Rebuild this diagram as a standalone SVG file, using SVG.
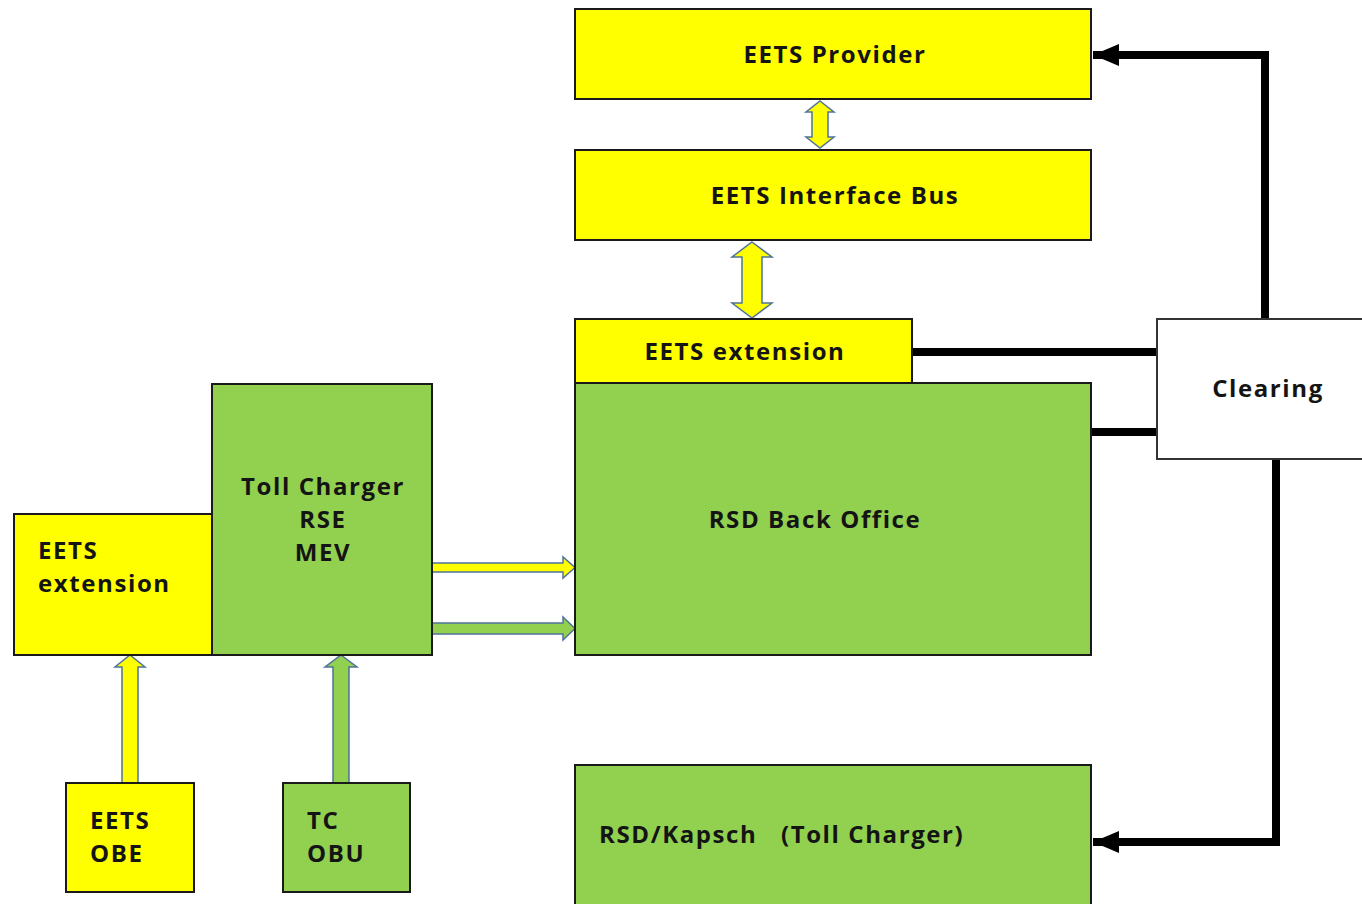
<svg xmlns="http://www.w3.org/2000/svg" width="1362" height="904" viewBox="0 0 1362 904">
<defs>
<style>
.y{fill:#FFFF00;stroke:#1a1a1a;stroke-width:2}
.g{fill:#92D050;stroke:#1a1a1a;stroke-width:2}
.w{fill:#FFFFFF;stroke:#333;stroke-width:2}
.t{font-family:"Open Sans","Liberation Sans",sans-serif;font-weight:bold;font-size:24px;letter-spacing:1.6px;fill:#141414}
.c{text-anchor:middle}
.ln{fill:none;stroke:#000;stroke-width:8}
.ay{fill:#FFFF00;stroke:#4F739A;stroke-width:1.5;stroke-linejoin:miter}
.ag{fill:#92D050;stroke:#4F739A;stroke-width:1.5;stroke-linejoin:miter}
</style>
<marker id="ah" markerUnits="userSpaceOnUse" markerWidth="28" markerHeight="24" refX="26" refY="11" orient="auto">
<path d="M0,0 L26,11 L0,22 Z" fill="#000"/>
</marker>
</defs>
<rect width="1362" height="904" fill="#fff"/>

<g id="connectors">
<path class="ln" d="M1265,319 V55 H1093" marker-end="url(#ah)"/>
<path class="ln" d="M1276,459 V842 H1093" marker-end="url(#ah)"/>
<path class="ln" d="M912,352 H1157"/>
<path class="ln" d="M1092,432 H1157"/>
<path class="ay" d="M820,101 L834,112 L828,112 L828,137 L834,137 L820,148 L806,137 L812,137 L812,112 L806,112 Z"/>
<path class="ay" d="M752,242 L772,257 L762,257 L762,303 L772,303 L752,318 L732,303 L742,303 L742,257 L732,257 Z"/>
<path class="ay" d="M432,563 L563,563 L563,557 L575,567.5 L563,578 L563,572 L432,572 Z"/>
<path class="ag" d="M432,623 L563,623 L563,617 L575,628.5 L563,640 L563,634 L432,634 Z"/>
<path class="ay" d="M130,655 L145,667 L138,667 L138,783 L122,783 L122,667 L115,667 Z"/>
<path class="ag" d="M341,655 L357,667 L349,667 L349,783 L333,783 L333,667 L325,667 Z"/>
</g>

<g id="eets-provider">
<rect class="y" x="575" y="9" width="516" height="90"/>
<text class="t c" x="835" y="63">EETS Provider</text>
</g>
<g id="eets-interface-bus">
<rect class="y" x="575" y="150" width="516" height="90"/>
<text class="t c" x="835" y="204">EETS Interface Bus</text>
</g>
<g id="rsd-back-office">
<rect class="g" x="575" y="383" width="516" height="272"/>
<text class="t c" x="815" y="528">RSD Back Office</text>
</g>
<g id="eets-extension-top">
<rect class="y" x="575" y="319" width="337" height="64"/>
<text class="t c" x="745" y="360">EETS extension</text>
</g>
<g id="clearing">
<rect class="w" x="1157" y="319" width="215" height="140"/>
<text class="t c" x="1268" y="397">Clearing</text>
</g>
<g id="rsd-kapsch">
<rect class="g" x="575" y="765" width="516" height="150"/>
<text class="t" x="599" y="843" xml:space="preserve">RSD/Kapsch   (Toll Charger)</text>
</g>
<g id="toll-charger">
<rect class="g" x="212" y="384" width="220" height="271"/>
<text class="t c" x="323" y="495">Toll Charger</text>
<text class="t c" x="323" y="528">RSE</text>
<text class="t c" x="323" y="561">MEV</text>
</g>
<g id="eets-extension-left">
<rect class="y" x="14" y="514" width="198" height="141"/>
<text class="t" x="38" y="559">EETS</text>
<text class="t" x="38" y="592">extension</text>
</g>
<g id="eets-obe">
<rect class="y" x="66" y="783" width="128" height="109"/>
<text class="t" x="90" y="829">EETS</text>
<text class="t" x="90" y="862">OBE</text>
</g>
<g id="tc-obu">
<rect class="g" x="283" y="783" width="127" height="109"/>
<text class="t" x="307" y="829">TC</text>
<text class="t" x="307" y="862">OBU</text>
</g>
</svg>
